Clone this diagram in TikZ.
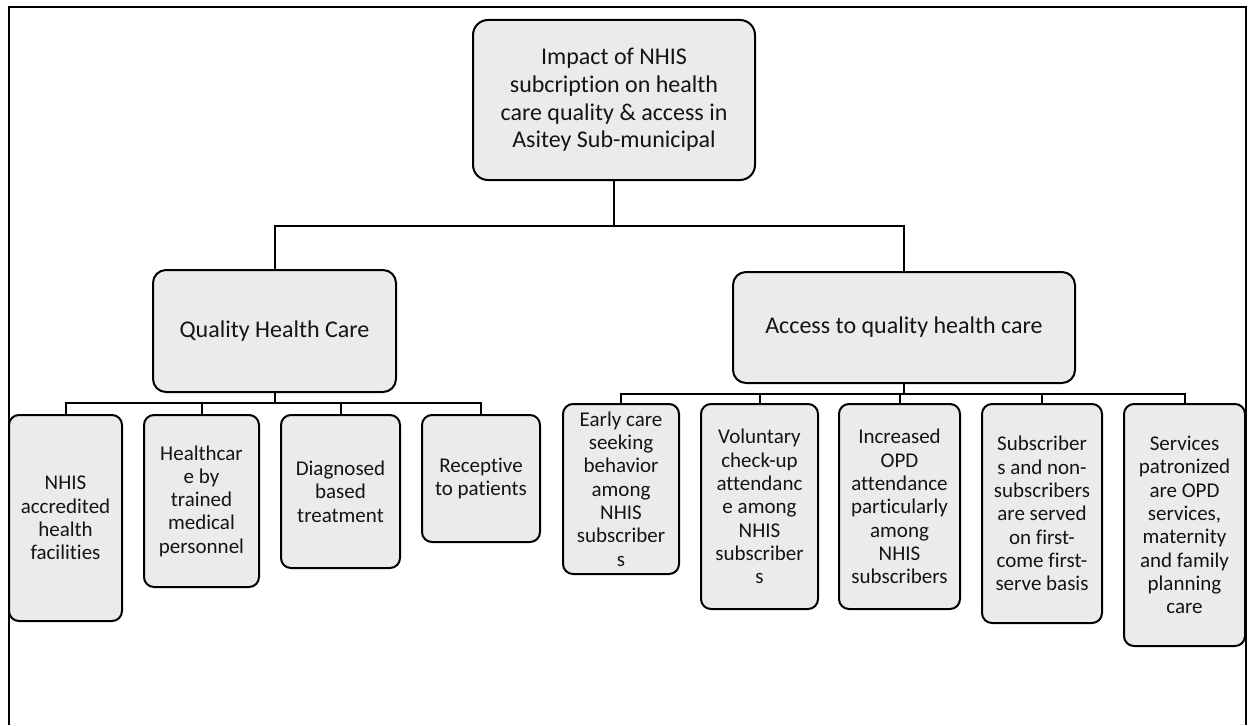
\documentclass[tikz,border=0pt]{standalone}
\usepackage{fontspec}
\setmainfont{Carlito}[Ligatures=CommonOff]
\definecolor{boxfill}{RGB}{235,235,235}
\definecolor{inkcol}{RGB}{20,20,20}
\begin{document}
\begin{tikzpicture}[x=1pt,y=-1pt,
  box/.style={draw=black, fill=boxfill, text=inkcol, line width=2pt, rounded corners=10pt, inner sep=0pt, align=center, font=\fontsize{21}{23.3}\selectfont},
  bigbox/.style={box, rounded corners=13pt, font=\fontsize{24}{27.7}\selectfont},
  link/.style={line width=2pt},
  frameline/.style={line width=1.3pt}]
\useasboundingbox (0,0) rectangle (1252,725);
\draw[frameline] (9,725) -- (9,7) -- (1246,7) -- (1246,725);

% top level
\node[bigbox, rounded corners=15pt, minimum width=282pt, minimum height=160pt] (top) at (614,100)
  {Impact of NHIS\\subcription on health\\care quality \& access in\\Asitey Sub-municipal};

% second level
\node[bigbox, minimum width=243pt, minimum height=122pt] (qhc) at (274.5,331) {Quality Health Care};
\node[bigbox, minimum width=342pt, minimum height=111pt] (acc) at (904,327.5) {Access to quality health care};

% quality children
\node[box, minimum width=113pt, minimum height=206pt] (q1) at (65.5,518) {NHIS\\accredited\\health\\facilities};
\node[box, minimum width=115pt, minimum height=172pt] (q2) at (201.5,501) {Healthcar\\e by\\trained\\medical\\personnel};
\node[box, minimum width=119pt, minimum height=153pt] (q3) at (340.5,491.5) {Diagnosed\\based\\treatment};
\node[box, minimum width=118pt, minimum height=127pt] (q4) at (481,478.5) {Receptive\\to patients};

% access children
\node[box, minimum width=116pt, minimum height=170pt] (a1) at (621,489) {Early care\\seeking\\behavior\\among\\NHIS\\subscriber\\s};
\node[box, minimum width=117pt, minimum height=205pt] (a2) at (759.5,506.5) {Voluntary\\check-up\\attendanc\\e among\\NHIS\\subscriber\\s};
\node[box, minimum width=121pt, minimum height=205pt] (a3) at (899.5,506.5) {Increased\\OPD\\attendance\\particularly\\among\\NHIS\\subscribers};
\node[box, minimum width=120pt, minimum height=219pt] (a4) at (1042,513.5) {Subscriber\\s and non-\\subscribers\\are served\\on first-\\come first-\\serve basis};
\node[box, minimum width=121pt, minimum height=242pt] (a5) at (1184.5,525) {Services\\patronized\\are OPD\\services,\\maternity\\and family\\planning\\care};

% bus coordinates
\coordinate (bustop) at (614,225.5);
\coordinate (busq) at (274.5,403);
\coordinate (busa) at (904,394);

% connectors
\draw[link] (top.south) -- (bustop);
\draw[link] (qhc.north) |- (bustop) -| (acc.north);

\draw[link] (qhc.south) -- (busq);
\draw[link] (q1.north) |- (busq) -| (q4.north);
\draw[link] (q2.north) -- (q2.north |- busq);
\draw[link] (q3.north) -- (q3.north |- busq);

\draw[link] (acc.south) -- (busa);
\draw[link] (a1.north) |- (busa) -| (a5.north);
\draw[link] (a2.north) -- (a2.north |- busa);
\draw[link] (a3.north) -- (a3.north |- busa);
\draw[link] (a4.north) -- (a4.north |- busa);
\end{tikzpicture}
\end{document}
